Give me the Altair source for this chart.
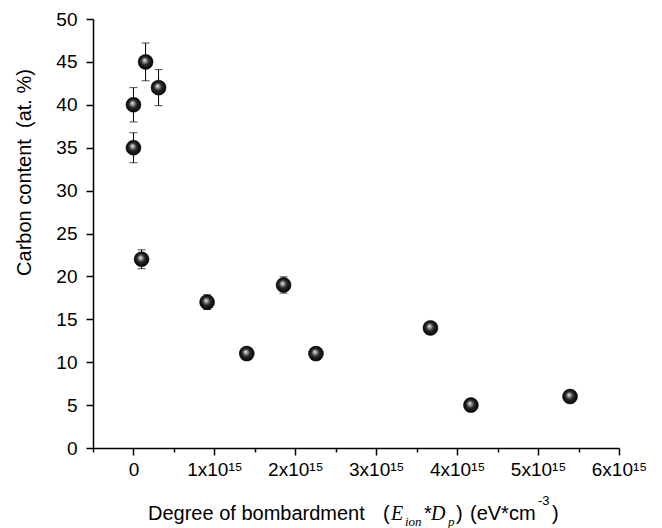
import altair as alt
import pandas as pd

# data
x_vals = [0.0, 0.0, 0.15e15, 0.31e15, 0.10e15, 0.91e15, 1.40e15, 1.855e15, 2.255e15, 3.67e15, 4.17e15, 5.395e15]
y_vals = [35, 40, 45, 42, 22, 17, 11, 19, 11, 14, 5, 6]
y_err = [1.75, 2.0, 2.2, 2.1, 1.1, 0.85, 0.3, 0.95, 0.3, 0.4, 0.3, 0.3]

x_ticks = [i * 0.5e15 for i in range(-1, 13)]
y_ticks = [i * 2.5 for i in range(0, 21)]

df = pd.DataFrame({"x": x_vals, "y": y_vals, "err": y_err})
df["lo"] = df["y"] - df["err"]
df["hi"] = df["y"] + df["err"]

FONT = "Liberation Sans"
SERIF = "Liberation Serif"

xscale = alt.Scale(domain=[-0.5e15, 6e15], nice=False, zero=False)
yscale = alt.Scale(domain=[0, 50], nice=False)

xaxis = alt.Axis(
    values=x_ticks,
    labelExpr="datum.value % 1e15 != 0 ? '' : (datum.value == 0 ? '0' : format(datum.value/1e15, 'd') + 'x10¹⁵')",
    tickSize={"condition": {"test": "datum.value % 1e15 != 0", "value": 4}, "value": 7},
    labelOverlap=False, labelFlush=False, grid=False, title=None,
    labelFont=FONT, labelFontSize=19, labelColor="black", labelPadding=5,
    domainColor="black", domainWidth=1.5, tickColor="black", tickWidth=1.5,
)
yaxis = alt.Axis(
    values=y_ticks,
    labelExpr="datum.value % 5 != 0 ? '' : format(datum.value, 'd')",
    tickSize={"condition": {"test": "datum.value % 5 != 0", "value": 4}, "value": 7},
    labelOverlap=False, labelFlush=False, grid=False,
    labelFont=FONT, labelFontSize=19, labelColor="black", labelPadding=9,
    domainColor="black", domainWidth=1.5, tickColor="black", tickWidth=1.5,
    title="Carbon content\u00a0 (at. %)", titleFont=FONT, titleFontSize=20, titleFontWeight="normal",
    titleColor="black", titleAngle=-90, titleX=-63, titleY=153, titleAlign="center",
    titleBaseline="alphabetic",
)

base = alt.Chart(df)

bars = base.mark_rule(color="black", strokeWidth=1).encode(
    x=alt.X("x:Q", scale=xscale, axis=xaxis),
    y=alt.Y("lo:Q", scale=yscale, axis=yaxis),
    y2="hi:Q",
)
cap_lo = base.mark_tick(color="black", orient="horizontal", size=8, thickness=1).encode(
    x=alt.X("x:Q", scale=xscale), y=alt.Y("lo:Q", scale=yscale))
cap_hi = base.mark_tick(color="black", orient="horizontal", size=8, thickness=1).encode(
    x=alt.X("x:Q", scale=xscale), y=alt.Y("hi:Q", scale=yscale))

grad = alt.RadialGradient(
    gradient="radial",
    stops=[
        alt.GradientStop(color="#f2f2f2", offset=0),
        alt.GradientStop(color="#a0a0a0", offset=0.2),
        alt.GradientStop(color="#2a2a2a", offset=0.5),
        alt.GradientStop(color="#000000", offset=1),
    ],
    x1=0.42, y1=0.38, r1=0, x2=0.5, y2=0.5, r2=0.52,
)
pts = base.mark_circle(size=225, fill=grad, opacity=1, stroke="#000000", strokeWidth=0.5).encode(
    x=alt.X("x:Q", scale=xscale), y=alt.Y("y:Q", scale=yscale))

dummy = alt.Chart(pd.DataFrame({"a": [0]}))

def seg(text, x, y, size=20, font=FONT, style="normal"):
    return dummy.mark_text(text=text, align="left", baseline="alphabetic", font=font,
                           fontSize=size, fontStyle=style, color="black").encode(
        x=alt.value(x), y=alt.value(y))

title_layers = [
    seg("Degree of bombardment", 55, 501),
    seg("(", 290, 501),
    seg("E", 298, 501, font=SERIF, style="italic"),
    seg("ion", 312, 507, size=13, font=SERIF, style="italic"),
    seg("*", 331, 501),
    seg("D", 338, 501, font=SERIF, style="italic"),
    seg("p", 355, 507, size=13, font=SERIF, style="italic"),
    seg(")", 363, 501),
    seg("(eV*cm", 377, 501),
    seg("-3", 445, 486, size=13),
    seg(")", 459, 501),
]

chart = alt.layer(bars, cap_lo, cap_hi, pts, *title_layers).properties(
    width=526, height=429,
    padding={"left": 85, "top": 11, "right": 33, "bottom": 80},
    autosize=alt.AutoSizeParams(type="none"),
).configure_view(stroke=None)

chart.save("out.html", embed_options={"renderer": "svg", "actions": False})
